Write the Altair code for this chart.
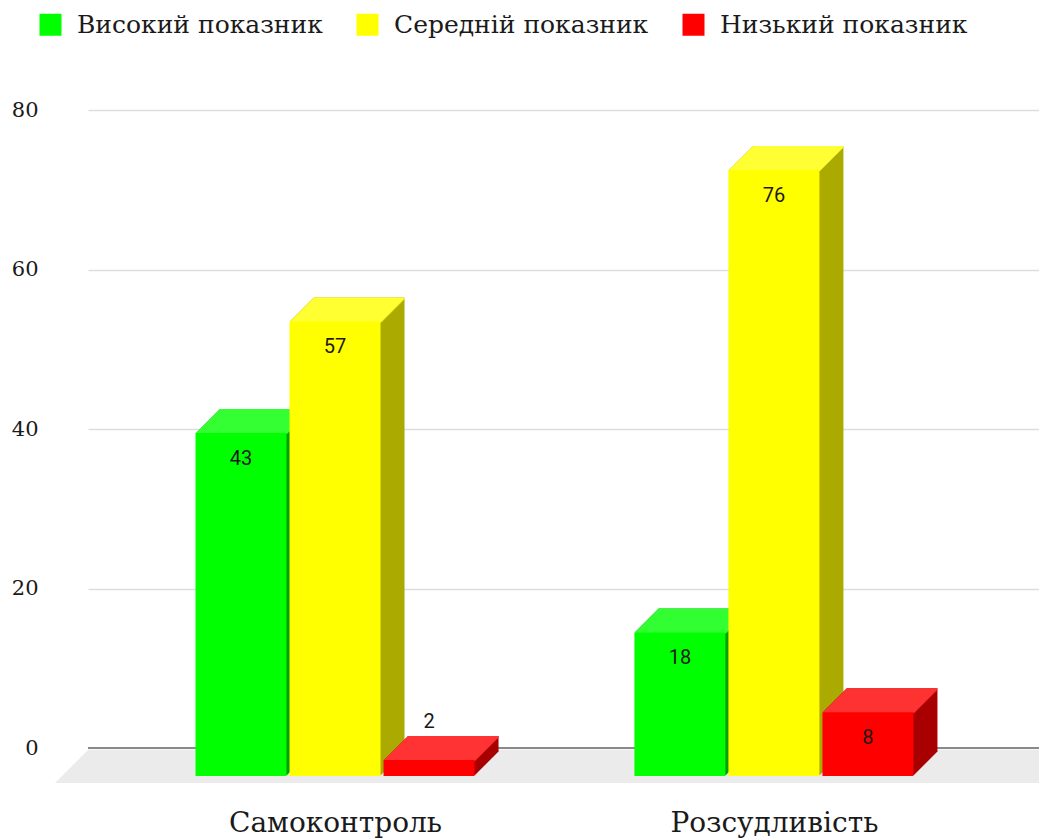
import altair as alt
import pandas as pd

categories = ["Самоконтроль", "Розсудливість"]
series = ["Високий показник", "Середній показник", "Низький показник"]
values_high = [43, 18]
values_mid = [57, 76]
values_low = [2, 8]

front_colors = ["#00ff00", "#ffff00", "#ff0000"]
top_colors = ["#33ff33", "#ffff33", "#ff3333"]
side_colors = ["#00a000", "#aaaa00", "#a80000"]

rows = []
for s, vals in zip(series, [values_high, values_mid, values_low]):
    for c, v in zip(categories, vals):
        rows.append({"category": c, "series": s, "value": v})
df = pd.DataFrame(rows)

W, H = 951, 638
DEPTH = 24
DROP = 28
BAR_W = 91
GROUP = 4.668          # distance between groups, in bar steps
SERIF = "DejaVu Serif"

ser_list = "[" + ",".join(f"'{s}'" for s in series) + "]"
cat_list = "[" + ",".join(f"'{c}'" for c in categories) + "]"
pos_expr = f"indexof({ser_list}, datum.series) + indexof({cat_list}, datum.category) * {GROUP}"


def color_expr(colors):
    return (f"datum.series === '{series[0]}' ? '{colors[0]}' : "
            f"datum.series === '{series[1]}' ? '{colors[1]}' : '{colors[2]}'")


label_expr = " : ".join(
    f"datum.value < {i * GROUP + 2.5} ? '{c}'" for i, c in enumerate(categories[:-1])
) + f" : '{categories[-1]}'"

x_scale = alt.Scale(domain=[-1.574, 8.434], nice=False, zero=False)
x_enc = alt.X("pos:Q", title=None, scale=x_scale,
              axis=alt.Axis(values=[1 + i * GROUP for i in range(len(categories))],
                            labelExpr=label_expr,
                            domain=False, ticks=False, grid=False, labelAngle=0,
                            labelFont=SERIF, labelFontSize=28, labelColor="#1a1a1a",
                            labelPadding=61, labelLimit=500, labelFlush=False,
                            labelOverlap=False))
y_scale = alt.Scale(domain=[0, 80], nice=False)
y_enc = alt.Y("value:Q", title=None, scale=y_scale,
              axis=alt.Axis(values=[0, 20, 40, 60, 80], domain=False, ticks=False,
                            grid=True, gridColor="#dddddd", gridWidth=1.5,
                            labelFont=SERIF, labelFontSize=21, labelColor="#1a1a1a",
                            labelPadding=50))

base = alt.Chart(df).transform_calculate(pos=pos_expr)

one = pd.DataFrame({"v": [0]})
# floor
floor_path = "M -0.924 -0.033 L 0.99 -0.033 L 0.99 0.033 L -0.99 0.033 Z"
floor = alt.Chart(one).mark_point(
    shape=floor_path, size=1000000, filled=True, color="#ebebeb", opacity=1,
    strokeWidth=0, yOffset=18.5
).encode(x=alt.value(462), y=alt.datum(0))

zero_rule = alt.Chart(one).mark_rule(color="#8a8a8a", strokeWidth=2).encode(
    y=alt.datum(0), x=alt.value(0), x2=alt.value(W))

layers = [floor, zero_rule]

# side faces
for i in range(DEPTH, 0, -1):
    layers.append(
        base.transform_calculate(side=color_expr(side_colors)).mark_bar(
            size=BAR_W, xOffset=i, yOffset=DROP - i, y2Offset=DROP - i
        ).encode(x=x_enc, y=y_enc, y2=alt.datum(0),
                 fill=alt.Fill("side:N", scale=None))
    )
# top faces
for i in range(DEPTH, 0, -1):
    layers.append(
        base.transform_calculate(topc=color_expr(top_colors)).mark_bar(
            size=BAR_W, xOffset=i, yOffset=DROP - i, y2Offset=DROP - i + 2
        ).encode(x=x_enc, y=y_enc, y2=alt.Y2("value:Q"),
                 fill=alt.Fill("topc:N", scale=None))
    )

front = base.mark_bar(size=BAR_W, yOffset=DROP, y2Offset=DROP, opacity=1).encode(
    x=x_enc, y=y_enc, y2=alt.datum(0),
    color=alt.Color("series:N", sort=series,
                    scale=alt.Scale(domain=series, range=front_colors),
                    legend=alt.Legend(title=None, orient="none", direction="horizontal",
                                      legendX=-50, legendY=-98,
                                      symbolType="square", symbolSize=484,
                                      symbolStrokeWidth=0, symbolOpacity=1,
                                      labelFont=SERIF, labelFontSize=25,
                                      labelColor="#1a1a1a", labelOffset=14,
                                      columnPadding=32, labelLimit=400))
)
layers.append(front)

text_in = base.transform_filter("datum.value >= 5").mark_text(
    font="Roboto", fontSize=20, color="#1a1a1a", dy=DROP + 26
).encode(x=x_enc, y=y_enc, text=alt.Text("value:Q"))
text_out = base.transform_filter("datum.value < 5").mark_text(
    font="Roboto", fontSize=20, color="#1a1a1a", dy=DROP - 38
).encode(x=x_enc, y=y_enc, text=alt.Text("value:Q"))
layers += [text_in, text_out]

chart = alt.layer(*layers).properties(
    width=W, height=H, background="white",
    autosize=alt.AutoSizeParams(type="none"),
    padding={"left": 80, "top": 102, "right": 0, "bottom": 90},
).configure_view(stroke=None)

chart.save("out.html", embed_options={"renderer": "svg", "actions": False})
